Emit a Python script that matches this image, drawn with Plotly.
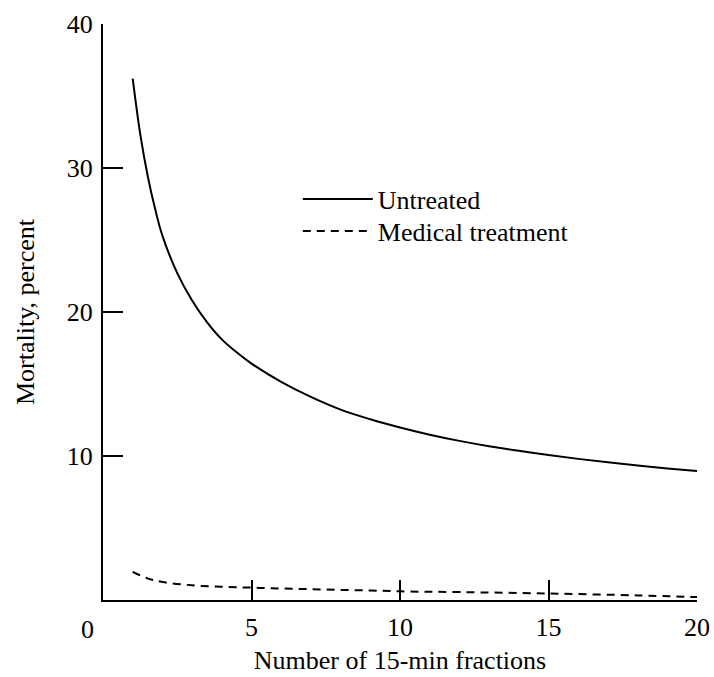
import plotly.graph_objects as go

# Mortality (%) by number of 15-minute fractions
fractions_untreated = [1, 1.25, 1.5, 1.75, 2, 2.5, 3, 3.5, 4, 4.5, 5, 6, 7, 8, 9, 10,
                       11, 12, 13, 14, 15, 16, 17, 18, 19, 20]
mortality_untreated = [36.2, 32.4, 29.5, 27.2, 25.3, 22.7, 20.8, 19.3, 18.1, 17.2, 16.42, 15.15, 14.1,
                       13.22, 12.55, 11.98, 11.48, 11.05, 10.68, 10.36, 10.07, 9.8, 9.56, 9.34, 9.14, 8.96]

fractions_medical = [1, 1.5, 2, 3, 4, 5, 6, 7, 8, 9, 10, 12, 15, 18, 20]
mortality_medical = [1.95, 1.5, 1.25, 1.02, 0.92, 0.86, 0.8, 0.75, 0.7, 0.66, 0.6, 0.55, 0.45, 0.32, 0.2]

x_ticks = [5, 10, 15, 20]
y_ticks = [10, 20, 30, 40]

FONT = "Liberation Serif, Times New Roman, serif"
SIZE = 26

fig = go.Figure()
fig.add_trace(go.Scatter(
    x=fractions_untreated, y=mortality_untreated, mode="lines", name="Untreated",
    line=dict(color="black", width=2, shape="spline", smoothing=1.0),
    legend="legend",
))
fig.add_trace(go.Scatter(
    x=fractions_medical, y=mortality_medical, mode="lines", name="Medical treatment",
    line=dict(color="black", width=2, dash="8px,6px", shape="spline", smoothing=1.0),
    legend="legend2",
))

legend_common = dict(
    xanchor="left", yanchor="middle",
    bgcolor="rgba(0,0,0,0)", borderwidth=0,
    itemwidth=70,
    font=dict(family=FONT, size=SIZE, color="black"),
)

fig.update_layout(
    width=714, height=677,
    margin=dict(l=103, r=17, t=24, b=77),
    paper_bgcolor="white", plot_bgcolor="white",
    font=dict(family=FONT, size=SIZE, color="black"),
    showlegend=True,
    legend=dict(x=0.328, y=(600 - 199) / 576, **legend_common),
    legend2=dict(x=0.328, y=(600 - 231) / 576, **legend_common),
    xaxis=dict(
        range=[0, 20], showgrid=False, zeroline=False, automargin=False,
        showline=True, linecolor="black", linewidth=2,
        tickmode="array", tickvals=x_ticks, ticktext=[str(v) for v in x_ticks],
        ticks="inside", ticklen=20, tickwidth=1.5, tickcolor="black",
        ticklabelstandoff=3,
        tickfont=dict(family=FONT, size=SIZE, color="black"),
        title=dict(text="Number of 15-min fractions", standoff=10,
                   font=dict(family=FONT, size=SIZE, color="black")),
    ),
    yaxis=dict(
        range=[0, 40], showgrid=False, zeroline=False, automargin=False,
        showline=True, linecolor="black", linewidth=2,
        tickmode="array", tickvals=y_ticks, ticktext=[str(v) for v in y_ticks],
        ticks="inside", ticklen=20, tickwidth=2, tickcolor="black",
        ticklabelstandoff=3,
        tickfont=dict(family=FONT, size=SIZE, color="black"),
        title=dict(text="Mortality, percent", standoff=25,
                   font=dict(family=FONT, size=SIZE, color="black")),
    ),
)

# Shared origin label, set just left of the axis corner
fig.add_annotation(
    x=0, y=0, xref="x", yref="y", text="0", showarrow=False,
    xanchor="center", yanchor="top", xshift=-16, yshift=-13,
    font=dict(family=FONT, size=SIZE, color="black"),
)

fig.write_html("out.html")
